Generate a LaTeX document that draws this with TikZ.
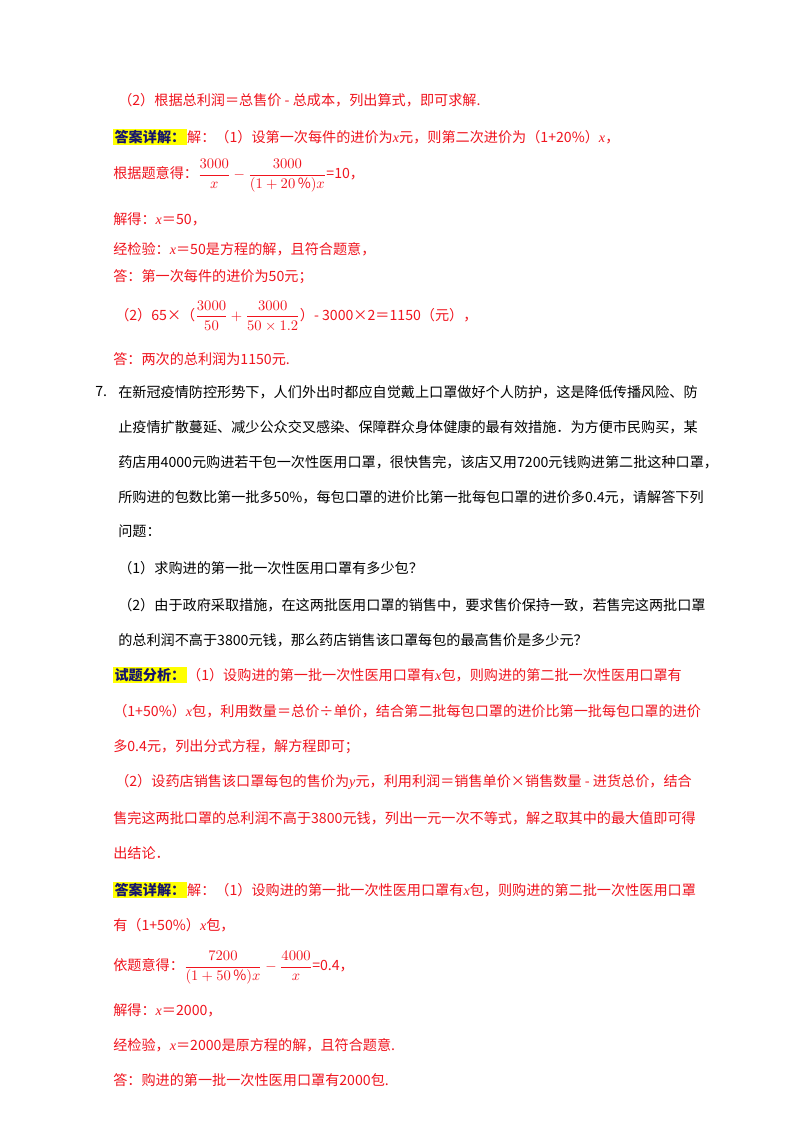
\documentclass[tikz,border=0pt]{standalone}
\usepackage{amsmath}
\usepackage{fontspec}
\usetikzlibrary{positioning}
\setmainfont{Noto Sans CJK SC}
\newfontfamily\lat{Liberation Serif}
\definecolor{ired}{RGB}{240,20,30}
\definecolor{hl}{RGB}{255,255,0}
\definecolor{hb}{RGB}{20,20,110}
\newcommand{\fs}{\fontsize{10.6pt}{12pt}\selectfont}
\newcommand{\xx}{{\lat\itshape x}}
\newcommand{\yy}{{\lat\itshape y}}
\begin{document}
\begin{tikzpicture}[x=0.75pt,y=-0.75pt,
  t/.style={anchor=west,inner sep=0pt,font=\fs},
  r/.style={t,text=ired},
  tag/.style={anchor=west,inner sep=1pt,fill=hl,text=hb,font=\fs\bfseries}]
\useasboundingbox[fill=white] (0,0) rectangle (800,1132);
\node[r] (l1) at (118,100) {（2）根据总利润＝总售价 - 总成本，列出算式，即可求解.};
\node[tag] (g1) at (113,137) {答案详解：};
\node[r,right=0pt of g1] (l2) {解：（1）设第一次每件的进价为\xx{}元，则第二次进价为（1+20\%）\xx，};
\node[r] (l3) at (113,176) {根据题意得：$\dfrac{3000}{x}-\dfrac{3000}{(1+20\,\%)x}$=10，};
\node[r] (l4) at (113,219) {解得：\xx＝50，};
\node[r] (l5) at (113,249) {经检验：\xx＝50是方程的解，且符合题意，};
\node[r] (l6) at (113,277) {答：第一次每件的进价为50元；};
\node[r] (l7) at (115,316) {（2）65×（$\dfrac{3000}{50}+\dfrac{3000}{50\times1.2}$）- 3000×2＝1150（元），};
\node[r] (l8) at (113,359) {答：两次的总利润为1150元.};
\node[t] (n7) at (95,392) {7.};
\node[t] (p1) at (118,392) {在新冠疫情防控形势下，人们外出时都应自觉戴上口罩做好个人防护，这是降低传播风险、防};
\node[t] (p2) at (118,427) {止疫情扩散蔓延、减少公众交叉感染、保障群众身体健康的最有效措施．为方便市民购买，某};
\node[t] (p3) at (118,462) {药店用4000元购进若干包一次性医用口罩，很快售完，该店又用7200元钱购进第二批这种口罩，};
\node[t] (p4) at (118,497) {所购进的包数比第一批多50\%，每包口罩的进价比第一批每包口罩的进价多0.4元，请解答下列};
\node[t] (p5) at (118,531) {问题：};
\node[t] (q1) at (118,568) {（1）求购进的第一批一次性医用口罩有多少包？};
\node[t] (q2) at (118,605) {（2）由于政府采取措施，在这两批医用口罩的销售中，要求售价保持一致，若售完这两批口罩};
\node[t] (q3) at (118,640) {的总利润不高于3800元钱，那么药店销售该口罩每包的最高售价是多少元？};
\node[tag] (g2) at (113,675) {试题分析：};
\node[r,right=0pt of g2] (a1) {（1）设购进的第一批一次性医用口罩有\xx{}包，则购进的第二批一次性医用口罩有};
\node[r] (a2) at (113,711) {（1+50\%）\xx{}包，利用数量＝总价÷单价，结合第二批每包口罩的进价比第一批每包口罩的进价};
\node[r] (a3) at (113,747) {多0.4元，列出分式方程，解方程即可；};
\node[r] (a4) at (115,782) {（2）设药店销售该口罩每包的售价为\yy{}元，利用利润＝销售单价×销售数量 - 进货总价，结合};
\node[r] (a5) at (113,818) {售完这两批口罩的总利润不高于3800元钱，列出一元一次不等式，解之取其中的最大值即可得};
\node[r] (a6) at (113,853) {出结论．};
\node[tag] (g3) at (113,890) {答案详解：};
\node[r,right=0pt of g3] (b1) {解：（1）设购进的第一批一次性医用口罩有\xx{}包，则购进的第二批一次性医用口罩};
\node[r] (b2) at (113,925) {有（1+50\%）\xx{}包，};
\node[r] (b3) at (113,968) {依题意得：$\dfrac{7200}{(1+50\,\%)x}-\dfrac{4000}{x}$=0.4，};
\node[r] (b4) at (113,1010) {解得：\xx＝2000，};
\node[r] (b5) at (113,1045) {经检验，\xx＝2000是原方程的解，且符合题意.};
\node[r] (b6) at (113,1080) {答：购进的第一批一次性医用口罩有2000包.};
\end{tikzpicture}
\end{document}
